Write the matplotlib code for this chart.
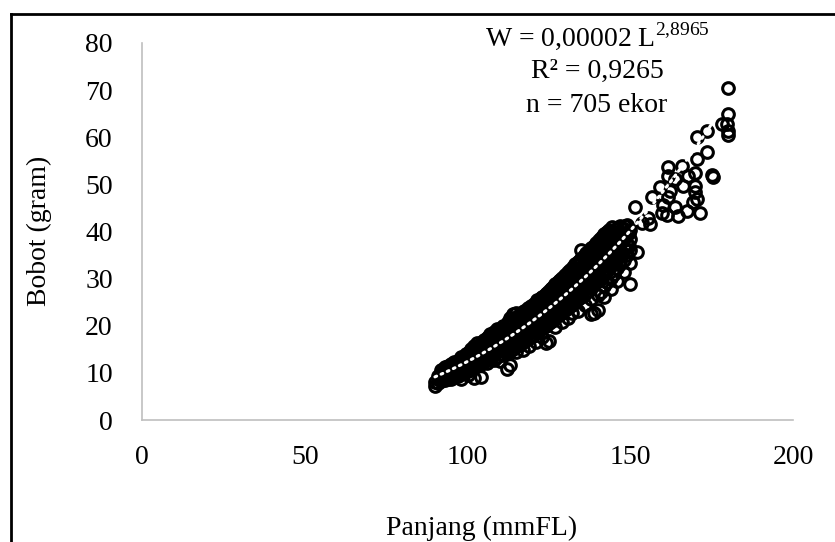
import numpy as np
import matplotlib
matplotlib.use("Agg")
from matplotlib import pyplot as plt
from matplotlib.lines import Line2D

plt.rcParams['font.family'] = ['Liberation Serif', 'DejaVu Serif']
plt.rcParams['mathtext.fontset'] = 'custom'
plt.rcParams['mathtext.rm'] = 'Liberation Serif'

# (panjang mmFL, bobot gram)
ikan_kecil = [
    (90, 7.2), (90, 8.1), (91, 7.8), (91, 8.6), (91, 9.3),
    (92, 8.2), (92, 9.0), (92, 9.9), (92, 10.6),
    (93, 8.4), (93, 9.5), (93, 10.3), (93, 11.2),
    (94, 8.8), (94, 9.7), (94, 10.5), (94, 11.4),
    (95, 8.6), (95, 9.4), (95, 10.2), (95, 11.0), (95, 11.9),
    (96, 9.1), (96, 10.0), (96, 10.9), (96, 11.8), (96, 12.4),
    (97, 9.4), (97, 10.4), (97, 11.2), (97, 12.1),
    (98, 8.7), (98, 9.8), (98, 10.8), (98, 11.7), (98, 12.6), (98, 13.3),
    (99, 10.2), (99, 11.1), (99, 12.0), (99, 12.9),
    (100, 9.6), (100, 10.5), (100, 11.6), (100, 12.5), (100, 13.4), (100, 14.2),
    (101, 10.9), (101, 11.9), (101, 12.8), (101, 13.8), (101, 15.0),
    (102, 9.0), (102, 11.3), (102, 12.3), (102, 13.2), (102, 14.1), (102, 15.6),
    (103, 11.6), (103, 12.5), (103, 13.6), (103, 14.6), (103, 16.4),
    (104, 9.2), (104, 11.9), (104, 13.0), (104, 14.0), (104, 15.0), (104, 16.0),
    (105, 12.4), (105, 13.4), (105, 14.4), (105, 15.4), (105, 17.0),
    (106, 12.2), (106, 13.1), (106, 14.1), (106, 15.1), (106, 16.1), (106, 17.4),
    (107, 13.0), (107, 14.3), (107, 15.3), (107, 16.3), (107, 18.2),
    (108, 12.8), (108, 13.8), (108, 14.8), (108, 15.8), (108, 16.9), (108, 18.6),
    (109, 13.4), (109, 14.6), (109, 16.0), (109, 17.2), (109, 19.3),
    (110, 12.5), (110, 14.0), (110, 15.2), (110, 16.5), (110, 17.6), (110, 19.0),
]

ikan_sedang = [
    (111, 13.8), (111, 15.0), (111, 16.2), (111, 17.4), (111, 18.6), (111, 20.0),
    (112, 10.8), (112, 14.2), (112, 15.6), (112, 16.9), (112, 18.1), (112, 19.4),
    (113, 11.6), (113, 14.6), (113, 16.0), (113, 17.4), (113, 18.8), (113, 20.4), (113, 21.6),
    (114, 15.1), (114, 16.6), (114, 18.0), (114, 19.3), (114, 20.8), (114, 22.4),
    (115, 14.4), (115, 15.8), (115, 17.2), (115, 18.6), (115, 20.0), (115, 21.4), (115, 22.8),
    (116, 16.0), (116, 17.6), (116, 19.0), (116, 20.4), (116, 21.9),
    (117, 14.8), (117, 16.5), (117, 18.0), (117, 19.5), (117, 21.0), (117, 22.6),
    (118, 16.9), (118, 18.4), (118, 19.9), (118, 21.4), (118, 23.0),
    (119, 15.6), (119, 17.4), (119, 19.0), (119, 20.5), (119, 22.0), (119, 23.6),
    (120, 17.8), (120, 19.5), (120, 21.0), (120, 22.5), (120, 24.1),
    (121, 16.6), (121, 18.6), (121, 20.2), (121, 21.8), (121, 23.3), (121, 24.8),
    (122, 18.8), (122, 20.6), (122, 22.2), (122, 23.8), (122, 25.4),
    (123, 17.6), (123, 19.6), (123, 21.3), (123, 23.0), (123, 24.6), (123, 26.2),
    (124, 16.4), (124, 20.0), (124, 21.8), (124, 23.4), (124, 25.1), (124, 26.7),
    (125, 16.8), (125, 20.5), (125, 22.3), (125, 24.0), (125, 25.7), (125, 27.4),
    (126, 21.0), (126, 22.8), (126, 24.6), (126, 26.3), (126, 28.0),
    (127, 19.8), (127, 21.6), (127, 23.4), (127, 25.2), (127, 27.0), (127, 28.8),
    (128, 22.2), (128, 24.0), (128, 25.9), (128, 27.7), (128, 29.5),
    (129, 20.8), (129, 22.8), (129, 24.6), (129, 26.5), (129, 28.4), (129, 30.2),
    (130, 23.4), (130, 25.2), (130, 27.0), (130, 28.9), (130, 30.8),
]

ikan_besar = [
    (131, 21.6), (131, 23.8), (131, 25.8), (131, 27.6), (131, 29.5), (131, 31.4),
    (132, 22.6), (132, 24.4), (132, 26.4), (132, 28.3), (132, 30.2), (132, 32.0),
    (133, 25.0), (133, 27.0), (133, 29.0), (133, 31.0), (133, 33.0),
    (134, 23.2), (134, 25.6), (134, 27.6), (134, 29.6), (134, 31.6), (134, 33.6),
    (135, 26.2), (135, 28.2), (135, 30.2), (135, 32.2), (135, 34.2), (135, 36.0),
    (136, 24.4), (136, 26.8), (136, 28.8), (136, 30.9), (136, 32.9), (136, 35.0),
    (137, 27.4), (137, 29.6), (137, 31.6), (137, 33.6), (137, 35.6),
    (138, 22.4), (138, 25.6), (138, 28.0), (138, 30.2), (138, 32.3), (138, 34.4), (138, 36.4),
    (139, 22.8), (139, 28.6), (139, 30.8), (139, 33.0), (139, 35.1), (139, 37.0),
    (140, 23.4), (140, 26.6), (140, 29.4), (140, 31.6), (140, 33.8), (140, 35.9), (140, 37.8),
    (141, 27.2), (141, 30.0), (141, 32.3), (141, 34.5), (141, 36.6), (141, 38.6),
    (142, 26.2), (142, 28.4), (142, 30.8), (142, 33.0), (142, 35.2), (142, 37.4), (142, 39.4),
    (143, 29.2), (143, 31.6), (143, 33.8), (143, 36.0), (143, 38.2), (143, 40.0),
    (144, 27.8), (144, 30.2), (144, 32.6), (144, 34.8), (144, 37.0), (144, 39.2),
    (145, 31.0), (145, 33.4), (145, 35.6), (145, 37.8), (145, 40.0),
    (146, 29.6), (146, 32.2), (146, 34.4), (146, 36.6), (146, 38.8), (146, 40.8),
    (147, 33.0), (147, 35.4), (147, 37.6), (147, 39.8), (147, 41.2),
    (148, 31.4), (148, 34.0), (148, 36.4), (148, 38.6), (148, 40.6),
    (149, 35.0), (149, 37.4), (149, 39.6), (149, 41.4),
    (150, 28.8), (150, 33.4), (150, 36.0), (150, 38.4), (150, 40.4),
]

# titik di sela-sela (panjang x,5 mm) yang membuat pita padat
ikan_sela = [
    (92.5, 9.2), (92.5, 10.2), (93.5, 9.0), (93.5, 10.0), (93.5, 10.9),
    (94.5, 9.3), (94.5, 10.4), (94.5, 11.2), (95.5, 9.8), (95.5, 10.7), (95.5, 11.6),
    (96.5, 10.2), (96.5, 11.2), (96.5, 12.2), (97.5, 10.0), (97.5, 11.0), (97.5, 12.0), (97.5, 12.8),
    (98.5, 10.6), (98.5, 11.6), (98.5, 12.5), (99.5, 10.9), (99.5, 12.0), (99.5, 13.1), (99.5, 14.0),
    (100.5, 11.3), (100.5, 12.4), (100.5, 13.6), (101.5, 11.6), (101.5, 12.7), (101.5, 13.9), (101.5, 14.8),
    (102.5, 12.0), (102.5, 13.0), (102.5, 14.3), (102.5, 15.2),
    (103.5, 12.3), (103.5, 13.5), (103.5, 14.8), (103.5, 15.8),
    (104.5, 12.6), (104.5, 13.8), (104.5, 15.1), (104.5, 16.6),
    (105.5, 13.0), (105.5, 14.3), (105.5, 15.6), (105.5, 16.8),
    (106.5, 13.5), (106.5, 14.7), (106.5, 16.0), (106.5, 17.9),
    (107.5, 13.8), (107.5, 15.0), (107.5, 16.5), (107.5, 17.6),
    (108.5, 14.2), (108.5, 15.6), (108.5, 17.0), (108.5, 18.2),
    (109.5, 14.6), (109.5, 16.0), (109.5, 17.6), (109.5, 18.6),
    (110.5, 15.0), (110.5, 16.4), (110.5, 18.0), (110.5, 19.6),
    (111.5, 15.4), (111.5, 16.9), (111.5, 18.4), (111.5, 19.2),
    (112.5, 15.8), (112.5, 17.3), (112.5, 18.9), (112.5, 20.8),
    (113.5, 16.2), (113.5, 17.8), (113.5, 19.4), (113.5, 21.0),
    (114.5, 16.6), (114.5, 18.2), (114.5, 19.8), (114.5, 21.6),
    (115.5, 17.0), (115.5, 18.6), (115.5, 20.4), (115.5, 22.0),
    (116.5, 17.4), (116.5, 19.2), (116.5, 20.8), (116.5, 22.6),
    (117.5, 17.8), (117.5, 19.6), (117.5, 21.3), (117.5, 23.2),
    (118.5, 18.2), (118.5, 20.0), (118.5, 21.8), (118.5, 23.8),
    (119.5, 18.8), (119.5, 20.6), (119.5, 22.4), (119.5, 24.2),
    (120.5, 19.2), (120.5, 21.1), (120.5, 22.9), (120.5, 24.6),
    (121.5, 19.7), (121.5, 21.6), (121.5, 23.4), (121.5, 25.4),
    (122.5, 20.2), (122.5, 22.1), (122.5, 24.0), (122.5, 25.8),
    (123.5, 20.7), (123.5, 22.6), (123.5, 24.5), (123.5, 26.4),
    (124.5, 21.2), (124.5, 23.2), (124.5, 25.2), (124.5, 27.0),
    (125.5, 21.7), (125.5, 23.7), (125.5, 25.8), (125.5, 27.8),
    (126.5, 22.2), (126.5, 24.3), (126.5, 26.4), (126.5, 28.4),
    (127.5, 22.8), (127.5, 24.8), (127.5, 27.0), (127.5, 29.0),
    (128.5, 23.3), (128.5, 25.4), (128.5, 27.6), (128.5, 29.8),
    (129.5, 23.8), (129.5, 26.0), (129.5, 28.2), (129.5, 30.4),
    (130.5, 24.4), (130.5, 26.6), (130.5, 28.8), (130.5, 31.0),
    (131.5, 25.0), (131.5, 27.2), (131.5, 29.4), (131.5, 31.8),
    (132.5, 25.6), (132.5, 27.8), (132.5, 30.1), (132.5, 32.4),
    (133.5, 26.2), (133.5, 28.4), (133.5, 30.8), (133.5, 33.2),
    (134.5, 26.8), (134.5, 29.0), (134.5, 31.4), (134.5, 34.0),
    (135.5, 27.4), (135.5, 29.8), (135.5, 32.2), (135.5, 34.6),
    (136.5, 28.0), (136.5, 30.4), (136.5, 32.8), (136.5, 35.4),
    (137.5, 28.6), (137.5, 31.0), (137.5, 33.6), (137.5, 36.0),
    (138.5, 29.2), (138.5, 31.8), (138.5, 34.3), (138.5, 36.8),
    (139.5, 29.9), (139.5, 32.4), (139.5, 35.0), (139.5, 37.6),
    (140.5, 30.6), (140.5, 33.2), (140.5, 35.8), (140.5, 38.2),
    (141.5, 31.2), (141.5, 33.8), (141.5, 36.4), (141.5, 39.0),
    (142.5, 31.9), (142.5, 34.6), (142.5, 37.2), (142.5, 39.6),
    (143.5, 32.6), (143.5, 35.2), (143.5, 37.9), (143.5, 40.4),
    (144.5, 33.3), (144.5, 36.0), (144.5, 38.6), (144.5, 41.0),
    (145.5, 34.0), (145.5, 36.8), (145.5, 39.4), (146.5, 34.7), (146.5, 37.4), (146.5, 40.0),
    (147.5, 35.5), (147.5, 38.2), (147.5, 40.6), (148.5, 36.2), (148.5, 38.9), (148.5, 41.2),
    (149.5, 37.0), (149.5, 39.6),
]

ikan_jarang = [
    (151.5, 45.3), (152.1, 35.7), (153.6, 41.9), (155.5, 42.8), (156.1, 41.5),
    (156.7, 47.4), (159.1, 49.4), (159.8, 44.0), (160.1, 45.7), (161.3, 43.6),
    (161.6, 53.6), (161.6, 51.7), (161.6, 47.4), (162.2, 48.5), (163.7, 51.1),
    (163.7, 45.3), (164.7, 43.2), (165.9, 54.0), (166.2, 49.6), (167.4, 44.3),
    (167.7, 51.7), (169.9, 52.5), (169.9, 49.6), (169.9, 48.3), (170.5, 46.8),
    (169.3, 46.2), (170.5, 55.3), (170.5, 60.0), (171.4, 44.0), (173.6, 61.3),
    (173.6, 56.8), (175.1, 51.9), (175.3, 51.6), (178.2, 62.8), (179.7, 62.8),
    (180.0, 61.3), (180.0, 60.5), (180.0, 64.9), (180.0, 70.4),
]

# persamaan di grafik
koef_a = 0.00002
koef_b = 2.8965
teks_persamaan = ['W = 0,00002 L$^{\\mathrm{2{,}8965}}$', 'R² = 0,9265', 'n = 705 ekor']

semua = ikan_kecil + ikan_sedang + ikan_besar + ikan_sela + ikan_jarang
panjang = np.array([p[0] for p in semua])
bobot = np.array([p[1] for p in semua])

fig = plt.figure(figsize=(8.35, 5.42), dpi=100)
ax = fig.add_axes([142 / 835, 1 - 420 / 542, 651 / 835, 377 / 542])

ax.plot(panjang, bobot, 'o', ms=8.4, mfc='none', mec='black', mew=2.2, zorder=2)

# trendline power (putih titik-titik)
xs = np.linspace(panjang.min(), panjang.max(), 200)
ax.plot(xs, koef_a * xs ** koef_b, color='white', lw=2.2,
        linestyle=(0, (0.6, 1.6)), dash_capstyle='round', zorder=3)

ax.set_xlim(0, 200)
ax.set_ylim(0, 80)
ax.set_xticks(np.arange(0, 201, 50))
ax.set_yticks(np.arange(0, 81, 10))
ax.tick_params(length=0, labelsize=20)
ax.tick_params(axis='y', pad=21)
ax.tick_params(axis='x', pad=18)
for s in ['top', 'right']:
    ax.spines[s].set_visible(False)
for s in ['left', 'bottom']:
    ax.spines[s].set_color('#bfbfbf')
    ax.spines[s].set_linewidth(1.2)

fig.text(39 / 835, 1 - 231 / 542, 'Bobot (gram)', rotation=90,
         ha='center', va='center', fontsize=20)
fig.text(482 / 835, 1 - 535 / 542, 'Panjang (mmFL)', ha='center',
         va='baseline', fontsize=20)

for i, t in enumerate(teks_persamaan):
    fig.text(597 / 835, 1 - (36 + 35 * i) / 542, t, ha='center',
             va='center', fontsize=20)

# bingkai hitam
fig.add_artist(Line2D([10.5 / 835, 1.0], [1 - 13.5 / 542] * 2, color='black',
                      lw=2, transform=fig.transFigure))
fig.add_artist(Line2D([10.5 / 835] * 2, [0, 1 - 13.5 / 542], color='black',
                      lw=2, transform=fig.transFigure))

fig.savefig('out.png', dpi=100)
